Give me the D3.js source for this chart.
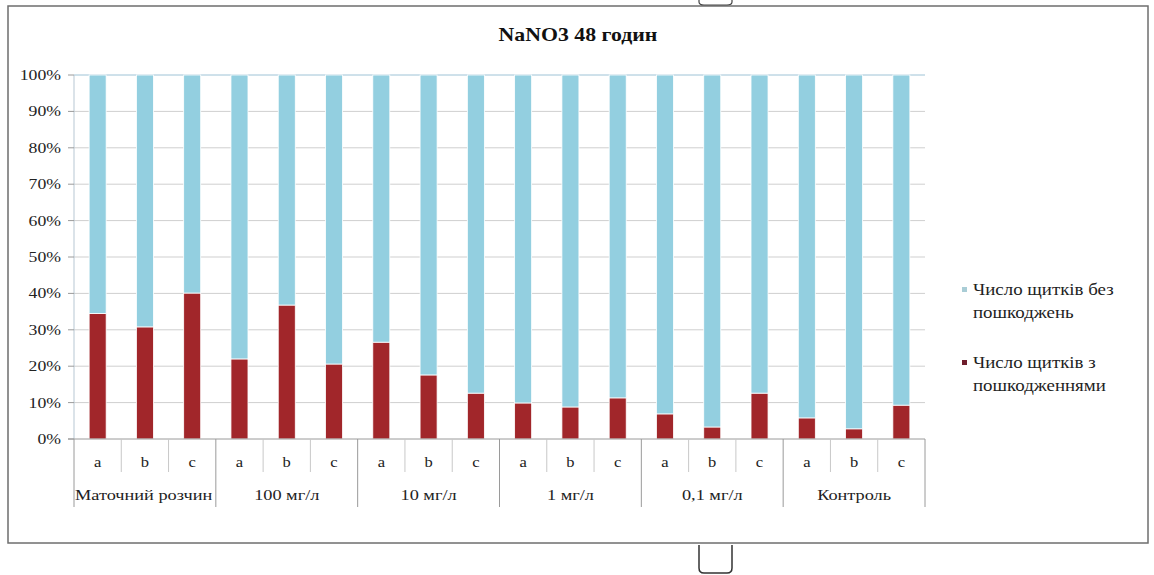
<!DOCTYPE html>
<html>
<head>
<meta charset="utf-8">
<script src="https://cdn.jsdelivr.net/npm/d3@7"></script>
<style>
  html, body { margin: 0; padding: 0; background: #ffffff; }
  svg { display: block; }
</style>
</head>
<body>
<svg id="chart" width="1154" height="575" font-family="'Liberation Serif', 'Times New Roman', 'DejaVu Serif', serif"></svg>
<script>
// Concentration groups and replicates within each group
const groups = ["Маточний розчин", "100 мг/л", "10 мг/л", "1 мг/л", "0,1 мг/л", "Контроль"];
const replicates = ["a", "b", "c"];

// Share of scales with damage, % (per replicate, in group order)
const damaged = [34.5, 30.8, 40.1, 22.0, 36.8, 20.6, 26.6, 17.6, 12.6, 9.9, 8.8, 11.3, 6.9, 3.3, 12.6, 5.8, 2.8, 9.3];
// Share of scales without damage, % (the rest of each stacked column)
const intact = damaged.map(d => 100 - d);

const yTicks = [0, 10, 20, 30, 40, 50, 60, 70, 80, 90, 100];
const seriesNames = ["Число щитків без пошкоджень", "Число щитків з пошкодженнями"];
const colors = { intact: "#93cfe0", damaged: "#a1262a" };

const svg = d3.select("#chart");
const M = { left: 74, right: 925, top: 75, bottom: 439 };
const STRETCH = 1.18; // horizontal text stretch
const FONT = "'Liberation Serif', 'Times New Roman', 'DejaVu Serif', serif";

// Outer chart frame
svg.append("rect").attr("x", 8).attr("y", 6).attr("width", 1140).attr("height", 537)
  .attr("fill", "#fff").attr("stroke", "#6e6e6e").attr("stroke-width", 1.5);

// Small bracket marks around the frame
svg.append("path").attr("d", "M699,545 L699,568 Q699,573 704,573 L727,573 Q732,573 732,568 L732,545")
  .attr("fill", "none").attr("stroke", "#333").attr("stroke-width", 1.5);
svg.append("path").attr("d", "M699,0 L699,2 Q699,5 704,5 L727,5 Q732,5 732,2 L732,0")
  .attr("fill", "none").attr("stroke", "#444").attr("stroke-width", 1.2);

const rows = [];
groups.forEach((g, gi) => replicates.forEach((r, ri) => {
  const i = gi * replicates.length + ri;
  rows.push({ key: i, group: g, rep: r, damaged: damaged[i], intact: intact[i] });
}));

const x = d3.scaleBand().domain(rows.map(d => d.key)).range([M.left, M.right])
  .paddingInner(0.64).paddingOuter(0.32);
const y = d3.scaleLinear().domain([0, 100]).range([M.bottom, M.top]);

// Horizontal gridlines
svg.append("g").selectAll("line").data(yTicks.filter(t => t > 0)).join("line")
  .attr("x1", M.left).attr("x2", M.right)
  .attr("y1", d => y(d)).attr("y2", d => y(d))
  .attr("stroke", d => d === 100 ? "#9ec3d6" : "#cfcfcf").attr("stroke-width", 1);

// Vertical axis line and tick marks
svg.append("line").attr("x1", M.left).attr("x2", M.left).attr("y1", M.top).attr("y2", M.bottom)
  .attr("stroke", "#b7c7d3").attr("stroke-width", 1);
svg.append("g").selectAll("line").data(yTicks).join("line")
  .attr("x1", M.left - 6).attr("x2", M.left).attr("y1", d => y(d)).attr("y2", d => y(d))
  .attr("stroke", "#9a9a9a");

// Y tick labels
svg.append("g").selectAll("text").data(yTicks).join("text")
  .attr("transform", d => `translate(61,${y(d) + 5}) scale(${STRETCH},1)`)
  .attr("text-anchor", "end").attr("font-size", 15).attr("font-family", FONT).attr("fill", "#222")
  .text(d => d + "%");

// Stacked columns
const stack = d3.stack().keys(["damaged", "intact"])(rows);
svg.append("g").selectAll("g").data(stack).join("g")
  .attr("fill", s => colors[s.key])
  .selectAll("rect").data(s => s).join("rect")
  .attr("x", d => x(d.data.key))
  .attr("width", x.bandwidth())
  .attr("y", d => y(d[1]))
  .attr("height", d => y(d[0]) - y(d[1]))
  .attr("stroke", "#ffffff").attr("stroke-width", 0.8);

// Baseline
svg.append("line").attr("x1", M.left - 6).attr("x2", M.right).attr("y1", M.bottom).attr("y2", M.bottom)
  .attr("stroke", "#9a9a9a");

// Two-level category axis
const step = x.step();
const edge = i => M.left + i * step;
const sub = svg.append("g");
rows.forEach((d, i) => {
  if (i % 3 !== 0) {
    sub.append("line").attr("x1", edge(i)).attr("x2", edge(i))
      .attr("y1", M.bottom).attr("y2", 472).attr("stroke", "#c8c8c8");
  }
});
d3.range(groups.length + 1).forEach(gi => {
  sub.append("line").attr("x1", edge(gi * 3)).attr("x2", edge(gi * 3))
    .attr("y1", M.bottom).attr("y2", 507).attr("stroke", "#9a9a9a");
});
sub.selectAll("text.rep").data(rows).join("text").attr("class", "rep")
  .attr("transform", d => `translate(${x(d.key) + x.bandwidth() / 2},${467}) scale(${STRETCH},1)`)
  .attr("text-anchor", "middle").attr("font-size", 14).attr("font-family", FONT).attr("fill", "#222")
  .text(d => d.rep);
sub.selectAll("text.grp").data(groups).join("text").attr("class", "grp")
  .attr("transform", (g, gi) => gi === 0
    ? `translate(${edge(0) + 1},${500}) scale(${STRETCH},1)`
    : `translate(${edge(gi * 3) + 1.5 * step},${500}) scale(${STRETCH},1)`)
  .attr("text-anchor", (g, gi) => gi === 0 ? "start" : "middle")
  .attr("font-size", 15.5).attr("font-family", FONT).attr("fill", "#222")
  .text(g => g);

// Title
svg.append("text")
  .attr("transform", `translate(578,41) scale(${STRETCH},1)`)
  .attr("text-anchor", "middle").attr("font-size", 18.5).attr("font-weight", "bold")
  .attr("font-family", FONT).attr("fill", "#111")
  .text("NaNO3 48 годин");

// Legend
const legend = [
  { lines: ["Число щитків без", "пошкоджень"], color: "#a9cdd6", y: 290 },
  { lines: ["Число щитків з", "пошкодженнями"], color: "#6e1d2c", y: 363 }
];
const lg = svg.append("g");
legend.forEach(item => {
  lg.append("rect").attr("x", 962).attr("y", item.y - 3).attr("width", 5).attr("height", 5)
    .attr("fill", item.color);
  item.lines.forEach((t, li) => {
    lg.append("text")
      .attr("transform", `translate(973,${item.y + 5 + li * 22.5}) scale(${STRETCH},1)`)
      .attr("font-size", 16).attr("font-family", FONT).attr("fill", "#222")
      .text(t);
  });
});
</script>
</body>
</html>
